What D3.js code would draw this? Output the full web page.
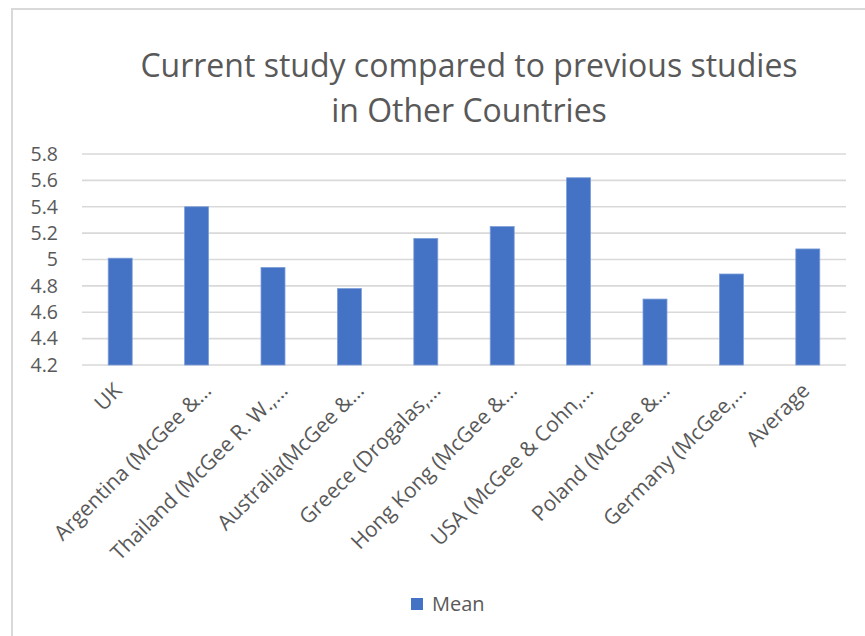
<!DOCTYPE html>
<html>
<head>
<meta charset="utf-8">
<script src="https://cdn.jsdelivr.net/npm/d3@7"></script>
<style>
  body { margin: 0; background: #fff; }
  text { font-family: "Open Sans", "Noto Sans", sans-serif; fill: #595959; }
</style>
</head>
<body>
<div id="chart"></div>
<script>
// categories and values
var categories = ["UK", "Argentina (McGee &\u2026", "Thailand (McGee R. W.,\u2026", "Australia(McGee &\u2026",
    "Greece (Drogalas,\u2026", "Hong Kong (McGee &\u2026", "USA (McGee & Cohn,\u2026", "Poland (McGee &\u2026",
    "Germany (McGee,\u2026", "Average"];
var meanValues = [5.01, 5.40, 4.94, 4.78, 5.16, 5.25, 5.62, 4.70, 4.89, 5.08];
var yTicks = [4.2, 4.4, 4.6, 4.8, 5, 5.2, 5.4, 5.6, 5.8];
var titleLines = ["Current study compared to previous studies", "in Other Countries"];
var seriesName = "Mean";

var W = 865, H = 636;
var margin = {top: 154, right: 19, bottom: 271, left: 82},
    width = W - margin.left - margin.right,
    height = H - margin.top - margin.bottom;

var svg = d3.select("#chart")
    .append("svg")
        .attr("width", W)
        .attr("height", H);

// chart frame
svg.append("rect")
    .attr("x", 12).attr("y", 9)
    .attr("width", W + 20).attr("height", H + 20)
    .attr("fill", "#fff")
    .attr("stroke", "#d9d9d9")
    .attr("stroke-width", 2);

// title
svg.append("text")
    .attr("text-anchor", "middle")
    .style("font-size", "32px")
    .selectAll("tspan")
    .data(titleLines)
    .enter().append("tspan")
        .attr("x", 469)
        .attr("y", function(d, i) { return 77 + i * 45; })
        .text(function(d) { return d; });

var g = svg.append("g")
    .attr("transform", "translate(" + margin.left + "," + margin.top + ")");

var x = d3.scaleBand().domain(categories).range([0, width]).padding(0);
var y = d3.scaleLinear().domain([4.2, 5.8]).range([height, 0]);
var barW = x.bandwidth() * 0.314;

// gridlines
g.append("g")
    .selectAll("line")
    .data(yTicks)
    .enter().append("line")
        .attr("x1", 0).attr("x2", width)
        .attr("y1", function(d) { return y(d); })
        .attr("y2", function(d) { return y(d); })
        .attr("stroke", "#d9d9d9")
        .attr("stroke-width", 1.6);

// y axis labels
var yAxis = g.append("g")
    .call(d3.axisLeft(y).tickValues(yTicks).tickSize(0).tickPadding(24).tickFormat(d3.format("")));
yAxis.select(".domain").remove();
yAxis.selectAll("text")
    .style("font-size", "19.5px")
    .style("font-family", null)
    .attr("fill", null);

// bars
g.selectAll(".bar")
    .data(meanValues)
    .enter().append("rect")
        .attr("class", "bar")
        .attr("x", function(d, i) { return x(categories[i]) + (x.bandwidth() - barW) / 2; })
        .attr("y", function(d) { return y(d); })
        .attr("width", barW)
        .attr("height", function(d) { return height - y(d); })
        .attr("fill", "#4472c4")
        .attr("stroke", "#7d9fd9")
        .attr("stroke-width", 0.8);

// x axis labels (truncated labels sit a bit further right, like Excel does)
var xAxis = g.append("g")
    .attr("transform", "translate(0," + height + ")")
    .call(d3.axisBottom(x).tickSize(0).tickPadding(0));
xAxis.select(".domain").remove();
xAxis.selectAll("text")
    .style("font-size", "21px")
    .style("font-family", null)
    .attr("fill", null)
    .attr("text-anchor", "end")
    .attr("dy", 0)
    .attr("y", 0)
    .attr("transform", function(d) {
        var dx = d.slice(-1) === "\u2026" ? 16 : 3;
        return "translate(" + dx + ",27) rotate(-45)";
    });

// legend
var legend = svg.append("g").attr("transform", "translate(411,598)");
legend.append("rect").attr("width", 12).attr("height", 12).attr("fill", "#4472c4");
legend.append("text").attr("x", 21).attr("y", 12.5).style("font-size", "20px").text(seriesName);
</script>
</body>
</html>
